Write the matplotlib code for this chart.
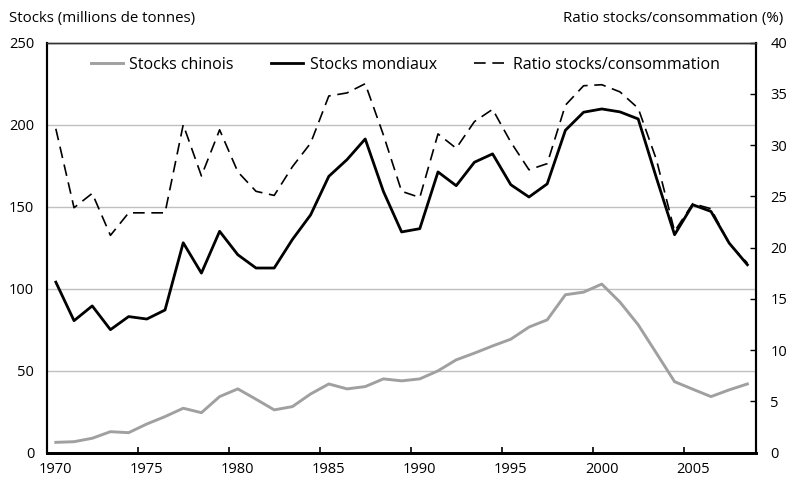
import numpy as np
import matplotlib.pyplot as plt

plt.rcParams['font.family'] = ['Open Sans', 'DejaVu Sans']

# Données
annees = np.arange(1970, 2009)
stocks_mondiaux = [104, 80.5, 89.5, 75, 83, 81.5, 87, 128, 109.5, 135,
                   120.7, 112.6, 112.6, 130, 145, 168.5, 178.7, 191.3, 159.3, 134.6,
                   136.6, 171.2, 162.8, 177.1, 182.2, 163.4, 155.9, 163.9, 196.6, 207.6,
                   209.6, 207.8, 203.5, 167.6, 132.9, 151.2, 147.1, 127.8, 114.6]
stocks_chinois = [6.3, 6.7, 8.8, 12.8, 12.2, 17.5, 22, 27.1, 24.4, 34.2,
                  38.9, 32.6, 26.1, 28.1, 35.8, 41.9, 38.9, 40.3, 45, 43.8,
                  45, 49.9, 56.6, 60.7, 65.1, 69.2, 76.6, 81, 96.3, 97.9,
                  102.8, 91.8, 78, 60.7, 43.3, 38.7, 34.2, 38.3, 41.9]
ratio = [31.6, 23.9, 25.3, 21.2, 23.4, 23.4, 23.4, 32.0, 27.0, 31.5,
         27.4, 25.5, 25.1, 27.9, 30.2, 34.8, 35.1, 36.0, 31.0, 25.5,
         24.9, 31.1, 29.7, 32.3, 33.5, 30.3, 27.6, 28.2, 33.9, 35.8,
         35.9, 35.2, 33.6, 28.6, 21.6, 24.3, 23.8, 20.4, 18.5]

fig = plt.figure(figsize=(7.88, 4.84), dpi=100)
ax = fig.add_axes([0.0593, 0.0647, 0.9007, 0.8471])
ax2 = ax.twinx()

ax.plot(annees, stocks_chinois, color='#a0a0a0', lw=2.1, label='Stocks chinois', zorder=3)
ax.plot(annees, stocks_mondiaux, color='black', lw=2.0, label='Stocks mondiaux', zorder=3)
ax2.plot(annees, ratio, color='black', lw=1.2, dashes=(7, 4), label='Ratio stocks/consommation')

# Axe gauche
ax.set_ylim(0, 250)
ax.set_yticks(np.arange(0, 251, 50))
ax.yaxis.grid(True, color='#c0c0c0', lw=1)
ax.set_axisbelow(True)
ax.tick_params(axis='y', length=0, pad=9, labelsize=10.5)

# Axe des années : graduations entre les catégories, étiquettes centrées
ax.set_xlim(1969.5, 2008.5)
ax.set_xticks(np.arange(1974.5, 2005, 5))
ax.set_xticklabels([])
ax.set_xticks(np.arange(1970, 2006, 5), minor=True)
ax.set_xticklabels([str(a) for a in range(1970, 2006, 5)], minor=True)
ax.tick_params(axis='x', which='major', direction='in', length=4, width=1.2)
ax.tick_params(axis='x', which='minor', length=0, pad=7, labelsize=10.5)

# Axe droit
ax2.set_ylim(0, 40)
ax2.set_yticks(np.arange(0, 41, 5))
ax2.tick_params(axis='y', direction='in', length=4, width=1, pad=10, labelsize=10.5)

for a in (ax, ax2):
    a.spines['top'].set_linewidth(1.0)
    a.spines['top'].set_color('#333333')
    a.spines['left'].set_linewidth(1.5)
    a.spines['right'].set_linewidth(1.5)
    a.spines['bottom'].set_linewidth(2.0)

fig.text(0.012, 0.962, 'Stocks (millions de tonnes)', fontsize=10.8, va='center', ha='left')
fig.text(0.994, 0.962, 'Ratio stocks/consommation (%)', fontsize=10.8, va='center', ha='right')

h1, l1 = ax.get_legend_handles_labels()
h2, l2 = ax2.get_legend_handles_labels()
ax2.legend(h1 + h2, l1 + l2, loc='upper center', bbox_to_anchor=(0.505, 1.0), ncol=3,
           frameon=False, fontsize=11.5, handlelength=2.0, handletextpad=0.4,
           columnspacing=2.35)

fig.savefig('out.png', dpi=100)
